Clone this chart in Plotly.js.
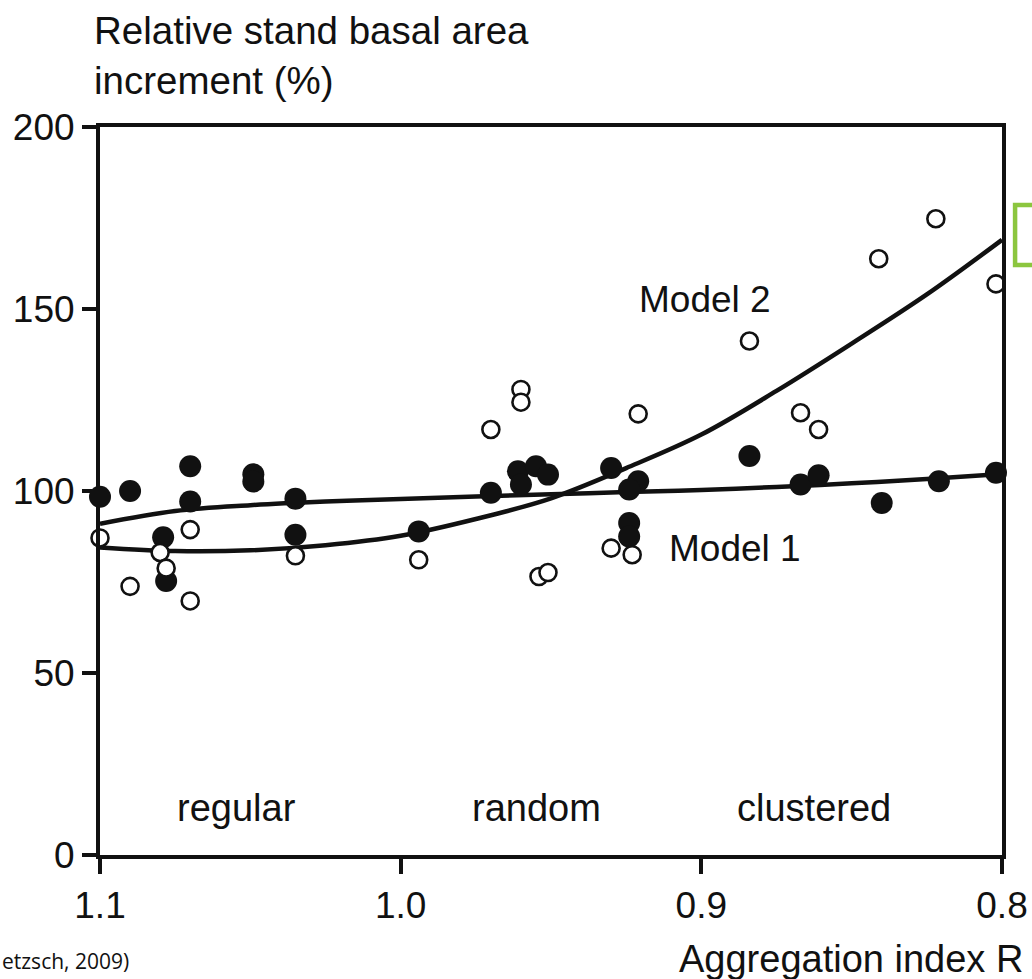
<!DOCTYPE html>
<html>
<head>
<meta charset="utf-8">
<script src="https://cdn.plot.ly/plotly-3.0.1.min.js"></script>
<style>
  html, body { margin: 0; padding: 0; background: #ffffff; }
  #chart { width: 1032px; height: 979px; }
</style>
</head>
<body>
<div id="chart"></div>
<script>
// Aggregation index R (x) vs relative stand basal area increment in % (y)
const filledX = [1.100, 1.090, 1.070, 1.070, 1.049, 1.049, 1.035, 1.079, 1.078, 1.035,
                 0.994, 0.970, 0.961, 0.960, 0.955, 0.951, 0.930, 0.921, 0.924, 0.924,
                 0.924, 0.884, 0.867, 0.861, 0.840, 0.821, 0.802];
const filledY = [98.4, 100.0, 106.8, 97.1, 104.6, 102.6, 97.9, 87.3, 75.3, 88.0,
                 88.9, 99.5, 105.4, 101.8, 106.8, 104.5, 106.3, 102.7, 100.4, 91.2,
                 87.5, 109.6, 101.8, 104.3, 96.7, 102.7, 105.0];

const openX = [1.100, 1.070, 1.080, 1.078, 1.090, 1.070, 1.035, 0.994, 0.960, 0.960,
               0.970, 0.921, 0.954, 0.951, 0.930, 0.923, 0.822, 0.841, 0.802, 0.884,
               0.867, 0.861];
const openY = [87.1, 89.4, 83.1, 78.8, 73.8, 69.8, 82.2, 81.1, 127.9, 124.4,
               116.9, 121.2, 76.5, 77.6, 84.3, 82.5, 174.8, 163.8, 156.9, 141.2,
               121.5, 116.9];

// Fitted curves, sampled along R
const curveX = [1.100, 1.075, 1.050, 1.025, 1.000, 0.975, 0.950, 0.925, 0.900, 0.875, 0.850, 0.825, 0.800];
const model1Y = [91.0, 94.5, 96.1, 97.1, 97.8, 98.5, 99.1, 99.7, 100.3, 101.1, 102.1, 103.3, 104.7];
const model2Y = [84.5, 83.5, 83.7, 85.1, 87.7, 92.3, 98.0, 106.3, 115.5, 127.5, 140.5, 154.0, 169.0];

const xTicks = [1.1, 1.0, 0.9, 0.8];
const xTickText = ['1.1', '1.0', '0.9', '0.8'];
const yTicks = [0, 50, 100, 150, 200];

const ink = '#111111';
const font = 'Liberation Sans, Arial, sans-serif';

const traces = [
  { x: curveX, y: model1Y, mode: 'lines', line: { color: ink, width: 4.5, shape: 'spline' }, hoverinfo: 'skip' },
  { x: curveX, y: model2Y, mode: 'lines', line: { color: ink, width: 4.5, shape: 'spline' }, hoverinfo: 'skip' },
  { x: filledX, y: filledY, mode: 'markers', cliponaxis: false,
    marker: { symbol: 'circle', size: 22, color: ink, line: { width: 0 } } },
  { x: openX, y: openY, mode: 'markers', cliponaxis: false,
    marker: { symbol: 'circle', size: 17, color: '#ffffff', line: { color: ink, width: 2.6 } } }
];

const layout = {
  width: 1032, height: 979,
  margin: { l: 100, r: 30, t: 127, b: 124 },
  paper_bgcolor: '#ffffff', plot_bgcolor: '#ffffff',
  showlegend: false,
  font: { family: font, color: ink, size: 36 },
  xaxis: {
    range: [1.1, 0.8], tickvals: xTicks, ticktext: xTickText,
    showgrid: false, zeroline: false,
    showline: true, mirror: true, linecolor: ink, linewidth: 4,
    ticks: 'outside', ticklen: 15, tickwidth: 4, tickcolor: ink,
    tickfont: { family: font, size: 37, color: ink }
  },
  yaxis: {
    range: [0, 200], tickvals: yTicks,
    showgrid: false, zeroline: false,
    showline: true, mirror: true, linecolor: ink, linewidth: 4,
    ticks: 'outside', ticklen: 14, tickwidth: 4, tickcolor: ink,
    tickfont: { family: font, size: 37, color: ink }
  },
  annotations: [
    { text: 'Relative stand basal area<br>increment (%)', xref: 'paper', yref: 'paper',
      x: -0.0085, y: 1.1655, xanchor: 'left', yanchor: 'top', showarrow: false, align: 'left',
      font: { family: font, size: 38.5, color: ink } },
    { text: 'Aggregation index R', xref: 'paper', yref: 'paper',
      x: 1.025, y: -0.1429, xanchor: 'right', yanchor: 'middle', showarrow: false,
      font: { family: font, size: 38, color: ink } },
    { text: 'regular', x: 1.0545, y: 13, showarrow: false, xanchor: 'center', yanchor: 'middle',
      font: { family: font, size: 38, color: ink } },
    { text: 'random', x: 0.9548, y: 13, showarrow: false, xanchor: 'center', yanchor: 'middle',
      font: { family: font, size: 38, color: ink } },
    { text: 'clustered', x: 0.8625, y: 13, showarrow: false, xanchor: 'center', yanchor: 'middle',
      font: { family: font, size: 38, color: ink } },
    { text: 'Model 2', x: 0.9213, y: 152.5, showarrow: false, xanchor: 'left', yanchor: 'middle',
      font: { family: font, size: 37, color: ink } },
    { text: 'Model 1', x: 0.9113, y: 84.3, showarrow: false, xanchor: 'left', yanchor: 'middle',
      font: { family: font, size: 37, color: ink } },
    { text: 'etzsch, 2009)', xref: 'paper', yref: 'paper',
      x: -0.1109, y: -0.1455, xanchor: 'left', yanchor: 'middle', showarrow: false,
      font: { family: 'Open Sans, sans-serif', size: 21, color: '#111111' } }
  ],
  shapes: [
    { type: 'rect', xref: 'paper', yref: 'paper', x0: 1.0145, x1: 1.06, y0: 0.8104, y1: 0.893,
      line: { color: '#8cc63f', width: 4.5 }, fillcolor: 'rgba(0,0,0,0)', layer: 'above' }
  ]
};

Plotly.newPlot('chart', traces, layout, { displayModeBar: false, staticPlot: true });
</script>
</body>
</html>
